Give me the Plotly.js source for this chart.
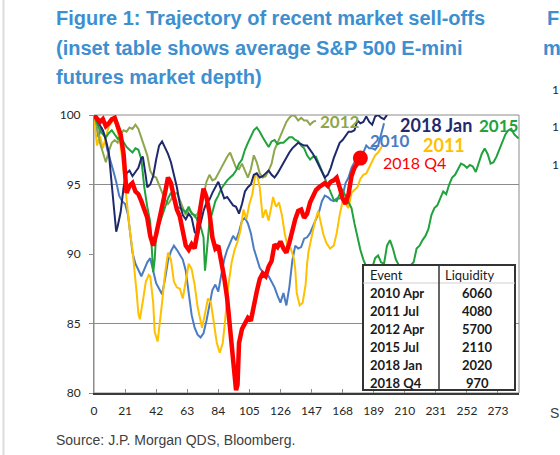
<!DOCTYPE html>
<html><head><meta charset="utf-8">
<script src="https://cdn.plot.ly/plotly-3.0.1.min.js"></script>
<style>html,body{margin:0;padding:0;background:#fff;} #chart{width:560px;height:455px;}</style>
</head><body><div id="chart"></div>
<script>
// ---------- DATA ----------
const titleLines = ['Figure 1: Trajectory of recent market sell-offs', '(inset table shows average S&P 500 E-mini', 'futures market depth)'];
const sourceText = 'Source: J.P. Morgan QDS, Bloomberg.';
const xTicks = [0,21,42,63,84,105,126,147,168,189,210,231,252,273];
const yTicks = [80,85,90,95,100];
const gridValues = [85,95];

const seriesNames = ['2010','2011','2012','2015','2018 Jan','2018 Q4'];

const x2010 = [0,2,3,5,7,9,11,13,15,17,19,21,23,25,26,28,30,32,34,36,38,40,42,44,46,48,50,52,54,56,58,60,62,64,66,68,70,72,74,76,78,80,82,84,86,88,90,92,94,96,98,100,102,104,106,108,110,112,114,116,118,120,122,124,126,128,130,132,134,136,138,140,142,144,146,148,150,152,154,156,158,160,162,164,166,168,170,172,174,176,178,180,182,184,186,188,190,192,194,196];
const y2010 = [100,98.8,98.4,99.1,98.6,97.5,96.8,96.0,95.2,94.2,93.8,93.6,92.8,91.0,90.1,89.3,88.8,88.4,88.9,89.4,89.7,88.8,87.9,87.5,87.1,88.2,89.5,90.2,90.6,90.3,89.9,89.6,88.8,87.0,85.6,84.7,84.2,84.0,84.3,85.2,86.4,87.4,87.8,87.3,88.5,89.6,90.3,90.8,91.3,91.0,91.6,92.4,92.6,92.2,91.5,90.4,89.6,89.0,88.7,88.6,88.4,88.0,87.6,87.0,86.5,87.2,86.3,87.6,89.5,90.6,90.4,90.5,91.1,91.2,91.5,92.0,92.5,93.0,93.8,94.2,94.1,93.9,93.8,94.0,94.0,94.2,95.1,95.5,96.2,96.6,97.0,97.1,97.3,97.8,97.6,97.6,97.5,97.8,98.6,99.4];

const x2011 = [0,1,2,4,6,8,10,12,14,16,18,20,22,24,26,27,29,30,31,33,35,37,38,40,41,43,44.5,46,48,50,52,54,56,58,60,62,64,66,68,70,72,73,75,77,79,81,83,85,87,88.5,90.5,93,95,97,99,101,103,105,107,109,110,112,114,116,118,120,121,123,125,127,129,131,133,135,136,137,139,141,143,144,145,147,149.5,151.5,153,155,157,159.5,162,164,166,168,170,172,174,176,178,180,182,184,186,188,190,192,194,195];
const y2011 = [100,98.6,97.8,98.5,97.6,98.4,99.2,99.5,99.7,98.8,97.8,96.0,93.9,91.9,90.3,89.3,87.0,85.7,85.3,86.6,88.0,88.5,88.4,86.5,84.4,83.7,85.0,86.5,88.6,90.1,89.6,88.0,87.6,87.5,86.8,88.0,89.3,88.9,87.8,86.2,85.0,84.7,85.7,86.8,86.5,85.2,83.6,82.9,83.6,85.1,87.5,89.4,90.3,90.9,91.7,93.2,92.5,93.6,94.3,95.7,95.8,94.8,92.6,93.2,92.4,93.5,94.1,93.4,93.7,92.8,91.4,90.5,90.4,89.7,88.9,87.2,86.3,86.5,87.8,89.3,90.2,91.2,92.4,93.1,92.4,91.4,90.8,90.4,90.6,91.5,92.8,93.8,93.6,93.3,94.4,94.6,94.8,95.4,95.7,95.8,96.2,96.7,97.1,97.3,97.7,97.8];

const x2012 = [0,2,4,6,8,10,12,14,16,18,20,22,24,26,28,30,32,34,36,38,40,42,44,46,48,50,52,54,56,58,60,62,64,66,68,70,72,74,76,78,80,82,84,86,88,90,92,94,96,98,100,102,104,106,108,110,112,114,116,118,120,122,124,126,128,130,132,134,136,138,140,142,144,146,148,150];
const y2012 = [100,99.2,98.0,97.3,96.6,97.4,98.0,98.2,98.0,98.6,98.9,98.8,99.1,99.0,99.3,99.0,98.4,97.8,97.1,96.0,95.6,95.5,95.0,94.4,93.9,93.6,93.9,94.3,94.4,93.9,93.4,92.8,93.2,93.0,92.7,92.9,93.6,94.2,95.2,95.7,95.3,95.4,95.8,96.2,96.7,97.0,97.3,96.8,96.2,96.1,96.5,96.0,95.5,96.1,97.1,96.6,95.8,95.5,95.6,96.0,96.5,97.5,98.0,98.4,98.9,99.5,99.8,100.0,99.9,99.6,99.8,99.6,99.6,99.3,99.5,99.6];

const x2015 = [0,2,4,6,8,10,12,14,16,18,20,22,24,26,28,30,32,34,36,38,39,40,41,42,44,46,48,50,52,54,56,58,60,62,64,66,68,70,72,74,75,76,78,80,82,84,86,88,90,92,94,96,98,100,102,104,106,108,110,112,114,116,118,120,122,124,126,128,130,132,134,136,138,140,142,144,146,148,150,152,154,156,158,160,162,164,166,168,170,172,174,176,178,180,182,184,186,188,190,192,194,196,198,200,202,204,206,208,210,212,214,216,218,220,222,224,226,228,230,232,234,236,238,240,242,244,246,248,250,252,254,256,258,260,262,264,266,268,270,272,274,276,278,280,282,284,286,287];
const y2015 = [100,99.4,98.9,98.6,98.4,98.7,98.9,98.6,98.3,98.4,98.0,97.7,97.5,97.3,97.6,97.5,96.8,94.8,93.4,92.3,90.5,88.7,89.6,91.4,92.1,92.7,93.3,94.0,94.4,93.9,93.4,93.3,93.2,93.0,93.4,92.9,92.8,92.4,92.0,91.2,88.8,89.9,92.3,93.0,93.8,94.2,94.7,95.0,95.3,95.5,95.7,96.0,96.5,96.8,97.5,98.0,98.5,98.9,99.1,98.8,98.4,98.0,97.7,98.1,98.2,97.9,98.0,98.0,98.2,98.4,98.4,98.2,98.1,97.8,97.6,97.1,96.8,97.0,97.0,96.5,96.0,95.5,95.0,94.4,93.9,93.8,94.3,94.6,94.2,93.8,93.3,92.2,91.2,90.3,89.6,89.1,88.6,89.0,89.7,89.9,89.4,89.3,90.6,91.0,90.4,89.6,89.2,89.0,89.1,89.0,89.2,89.4,90.4,90.6,91.0,91.3,91.8,92.8,93.3,93.5,94.0,94.5,94.3,95.0,95.5,95.7,96.1,96.5,96.4,96.2,96.4,96.3,95.9,96.6,97.2,97.6,97.2,96.5,96.6,97.0,97.5,98.1,98.6,98.9,99.0,98.6,98.4,98.3];

const x2018Jan = [0,2,4,6,8,10,12,14,15,16,18,20,22,24,26,28,30,32,33,35,36,38,40,42,44,46,48,50,52,54,56,58,60,62,64,66,68,70,72,74,76,78,80,82,84,86,88,90,92,94,96,98,100,102,104,106,108,110,112,114,116,118,120,122,124,126,128,130,132,134,136,138,140,142,144,146,148,150,152,154,156,158,160,162,164,166,168,170,172,174,176,178,180,182,184,186,188,190,192,194,196,198];
const y2018Jan = [100,99.6,99.3,98.9,98.2,97.3,95.0,92.6,91.6,92.0,93.0,94.8,95.8,96.0,95.6,95.9,96.2,96.9,97.0,95.6,94.8,95.0,95.6,96.8,97.8,98.1,97.7,97.2,96.6,95.8,94.8,93.6,92.8,92.5,92.9,92.6,91.6,91.3,92.3,93.1,93.7,93.9,94.4,94.8,95.2,94.6,94.0,94.1,93.8,93.5,93.4,92.9,93.6,94.5,94.8,95.0,95.7,95.8,95.5,95.6,95.8,96.0,95.7,95.5,95.8,96.2,96.5,96.9,97.3,97.6,97.8,98.0,97.9,97.8,97.8,97.5,97.2,96.8,96.4,96.0,95.5,95.7,96.2,96.9,97.4,98.0,98.2,98.5,98.8,98.8,98.9,99.6,99.4,99.5,99.9,99.5,99.3,99.9,100.0,99.8,99.7,100.0];

const x2018Q4 = [0,2,4,6,8,10,12,14,16,18,20,21,22,24,26,28,30,32,34,36,38,40,42,44,46,48,50,52,54,56,58,60,62,64,66,68,70,72,74,76,78,80,82,84,86,88,90,92,94,96,97,98,100,102,104,106,108,110,112,114,116,118,120,122,124,126,128,130,132,134,136,138,140,142,144,146,148,150,152,154,156,158,160,162,164,166,168,170,172,174,176,178,180];
const y2018Q4 = [100,99.8,99.5,99.7,99.2,99.4,99.7,99.8,99.3,98.6,97.2,95.5,94.4,94.9,95.1,94.5,94.3,93.8,93.1,92.6,91.3,90.6,91.4,92.4,93.1,94.4,95.5,95.1,94.1,93.2,92.7,91.6,90.6,90.3,90.7,90.4,91.6,93.4,94.7,94.1,93.0,91.2,90.4,90.6,89.6,88.3,86.8,84.8,82.6,80.2,80.6,83.6,84.6,85.1,85.4,85.2,86.4,87.3,88.2,88.6,88.4,89.1,89.5,90.7,90.5,90.9,90.4,90.1,90.8,91.8,92.5,93.1,93.2,92.6,92.9,93.7,94.2,94.6,94.8,95.0,95.1,94.9,95.2,95.3,95.5,94.8,94.0,93.6,94.3,95.6,96.2,96.5,96.9];

const tableHeader = ['Event','Liquidity'];
const tableEvents = ['2010 Apr','2011 Jul','2012 Apr','2015 Jul','2018 Jan','2018 Q4'];
const tableLiquidity = ['6060','4080','5700','2110','2020','970'];

// ---------- STYLE / LAYOUT ----------
const L = 94, R = 519, T = 115, B = 393;
const px2x = p => (p - L) / (R - L);
const py2y = p => (B - p) / (B - T);

const colors = {'2010':'#4a7cc3','2011':'#ffc000','2012':'#8ea64c','2015':'#21a23c','2018 Jan':'#1f2a6c','2018 Q4':'#ff0000'};
const seriesX = {'2010':x2010,'2011':x2011,'2012':x2012,'2015':x2015,'2018 Jan':x2018Jan,'2018 Q4':x2018Q4};
const seriesY = {'2010':y2010,'2011':y2011,'2012':y2012,'2015':y2015,'2018 Jan':y2018Jan,'2018 Q4':y2018Q4};

const traces = seriesNames.map(n => ({
  type:'scatter', mode:'lines', x:seriesX[n], y:seriesY[n], name:n,
  line:{color:colors[n], width: n === '2018 Q4' ? 4.5 : 2}, cliponaxis:true
}));
traces.push({type:'scatter', mode:'markers',
  x:[x2018Q4[x2018Q4.length-1]], y:[y2018Q4[y2018Q4.length-1]],
  marker:{color:'#ff0000', size:15}, cliponaxis:false});

const tickFont = {family:'Lato, sans-serif', size:12, color:'#262626'};
const annotations = [];
const titleY = [18, 48, 77];
titleLines.forEach((t,i) => annotations.push({xref:'paper', yref:'paper', x:px2x(54), y:py2y(titleY[i]),
  xanchor:'left', yanchor:'middle', showarrow:false, text:'<b>'+t+'</b>',
  font:{family:'Liberation Sans, Arial, sans-serif', size:20, color:'#3d8fd0'}}));
annotations.push({xref:'paper', yref:'paper', x:px2x(54), y:py2y(440), xanchor:'left', yanchor:'middle',
  showarrow:false, text:sourceText, font:{family:'Liberation Sans, Arial, sans-serif', size:14, color:'#404040'}});

// series labels
const labelPos = {'2012':[340,121,17,true],'2018 Jan':[436,125,18,true],'2015':[498,125,17,true],
  '2010':[390,140,17,true],'2011':[444,145,18,true],'2018 Q4':[414,162,16,false]};
seriesNames.forEach(n => {
  const p = labelPos[n];
  annotations.push({xref:'paper', yref:'paper', x:px2x(p[0]), y:py2y(p[1]), xanchor:'center', yanchor:'middle',
    showarrow:false, text: p[3] ? '<b>'+n+'</b>' : n,
    font:{family:'Lato, sans-serif', size:p[2], color:colors[n]}});
});

// table
const tL = 363, tR = 515, tT = 265, tB = 390, tDiv = 439, tHead = 283;
const shapes = [];
gridValues.forEach(v => shapes.push({type:'line', xref:'paper', yref:'y', x0:0, x1:1, y0:v, y1:v,
  line:{color:'#8c8c8c', width:1}, layer:'below'}));
shapes.push({type:'rect', xref:'paper', yref:'paper', x0:0, x1:1, y0:0, y1:1, line:{color:'#8c8c8c', width:1}, layer:'below'});
shapes.push({type:'line', xref:'paper', yref:'paper', x0:px2x(3.5), x1:px2x(3.5), y0:py2y(0), y1:py2y(455),
  line:{color:'#dcdcdc', width:2}});
shapes.push({type:'rect', xref:'paper', yref:'paper', x0:px2x(tL), x1:px2x(tR), y0:py2y(tB), y1:py2y(tT),
  fillcolor:'#ffffff', line:{color:'#333333', width:2}, layer:'above'});
shapes.push({type:'line', xref:'paper', yref:'paper', x0:px2x(tL), x1:px2x(tR), y0:py2y(tHead), y1:py2y(tHead),
  line:{color:'#cfcfcf', width:1}, layer:'above'});
shapes.push({type:'line', xref:'paper', yref:'paper', x0:px2x(tDiv), x1:px2x(tDiv), y0:py2y(tB), y1:py2y(tT),
  line:{color:'#333333', width:1.5}, layer:'above'});

const tFont = {family:'Lato, sans-serif', size:13, color:'#1a1a1a'};
annotations.push({xref:'paper', yref:'paper', x:px2x(368), y:py2y(275), xanchor:'left', yanchor:'middle',
  showarrow:false, text:tableHeader[0], font:tFont});
annotations.push({xref:'paper', yref:'paper', x:px2x(470), y:py2y(275), xanchor:'center', yanchor:'middle',
  showarrow:false, text:tableHeader[1], font:tFont});
tableEvents.forEach((e,i) => {
  const yy = 293 + i*18;
  annotations.push({xref:'paper', yref:'paper', x:px2x(368), y:py2y(yy), xanchor:'left', yanchor:'middle',
    showarrow:false, text:'<b>'+e+'</b>', font:tFont});
  annotations.push({xref:'paper', yref:'paper', x:px2x(477), y:py2y(yy), xanchor:'center', yanchor:'middle',
    showarrow:false, text:'<b>'+tableLiquidity[i]+'</b>', font:tFont});
});

// fragments of the neighbouring figure at the right edge
[['F',18,545],['m',48,541]].forEach(f => annotations.push({xref:'paper', yref:'paper', x:px2x(f[2]), y:py2y(f[1]),
  xanchor:'left', yanchor:'middle', showarrow:false, text:'<b>'+f[0]+'</b>',
  font:{family:'Liberation Sans, Arial, sans-serif', size:20, color:'#3d8fd0'}}));
[90,127,164].forEach(yy => annotations.push({xref:'paper', yref:'paper', x:px2x(550), y:py2y(yy),
  xanchor:'left', yanchor:'middle', showarrow:false, text:'1', font:{family:'Lato, sans-serif', size:12, color:'#262626'}}));
annotations.push({xref:'paper', yref:'paper', x:px2x(548), y:py2y(413), xanchor:'left', yanchor:'middle',
  showarrow:false, text:'S', font:{family:'Liberation Sans, Arial, sans-serif', size:14, color:'#404040'}});

const layout = {
  width:560, height:455, margin:{l:L, r:560-R, t:T, b:455-B, pad:0},
  paper_bgcolor:'#ffffff', plot_bgcolor:'#ffffff', showlegend:false,
  xaxis:{range:[0,287.2], tickvals:xTicks, ticktext:xTicks.map(String), ticks:'inside', ticklen:4,
    tickcolor:'#8c8c8c', showgrid:false, zeroline:false, showline:true, linecolor:'#3a3a3a', linewidth:1.5,
    tickfont:tickFont, ticklabelstandoff:6, fixedrange:true},
  yaxis:{range:[80,100], tickvals:yTicks, ticktext:yTicks.map(String), ticks:'outside', ticklen:4,
    tickcolor:'#8c8c8c', showgrid:false, zeroline:false, showline:true, linecolor:'#8c8c8c', linewidth:1,
    tickfont:tickFont, ticklabelstandoff:6, fixedrange:true},
  shapes:shapes, annotations:annotations
};
Plotly.newPlot('chart', traces, layout, {displayModeBar:false, staticPlot:true});
</script>
</body></html>
